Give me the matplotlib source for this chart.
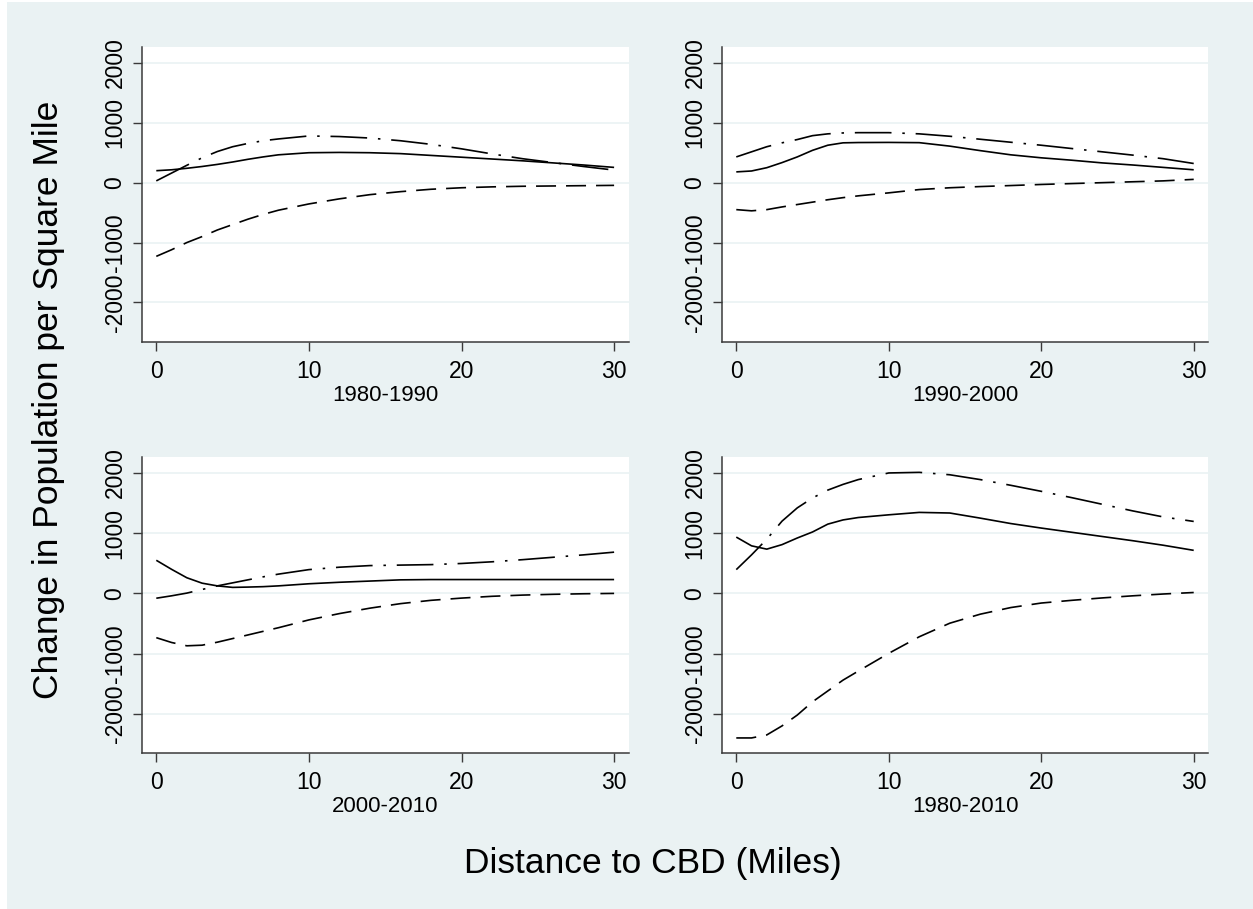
import numpy as np
import matplotlib
matplotlib.use("Agg")
import matplotlib.pyplot as plt
from matplotlib.patches import Rectangle

plt.rcParams["font.family"] = ["Liberation Sans", "DejaVu Sans"]
plt.rcParams["axes.unicode_minus"] = False

# distance grid (miles) the curves were read at
dist = [0, 1, 2, 3, 4, 5, 6, 7, 8, 10, 12, 14, 16, 18, 20, 22, 24, 26, 28, 30]

# 1980-1990
est_8090 = [200, 215, 240, 270, 305, 345, 390, 430, 465, 500, 505, 500, 485, 455, 425, 395, 365, 330, 295, 255]
lo_8090 = [-1230, -1120, -1000, -900, -790, -700, -610, -530, -460, -355, -270, -200, -150, -110, -85, -70, -60, -55, -50, -45]
hi_8090 = [30, 160, 290, 415, 520, 600, 655, 700, 730, 780, 770, 745, 700, 640, 565, 480, 400, 335, 270, 210]

# 1990-2000
est_9000 = [180, 195, 250, 335, 430, 540, 625, 665, 670, 672, 668, 610, 535, 465, 415, 375, 330, 295, 255, 215]
lo_9000 = [-450, -470, -450, -405, -365, -325, -285, -250, -220, -170, -115, -85, -65, -48, -30, -15, 0, 15, 30, 55]
hi_9000 = [430, 515, 600, 665, 720, 785, 815, 830, 835, 835, 815, 775, 725, 675, 625, 570, 515, 460, 400, 320]

# 2000-2010
est_0010 = [550, 400, 260, 170, 125, 100, 105, 112, 125, 160, 185, 205, 225, 230, 230, 230, 230, 230, 230, 230]
lo_0010 = [-735, -815, -870, -860, -810, -750, -690, -630, -570, -440, -335, -245, -170, -115, -78, -48, -28, -15, -6, 0]
hi_0010 = [-80, -40, 5, 65, 125, 175, 225, 275, 320, 395, 435, 462, 470, 478, 497, 525, 560, 600, 640, 685]

# 1980-2010
est_8010 = [935, 790, 735, 810, 920, 1020, 1150, 1220, 1260, 1305, 1345, 1335, 1250, 1160, 1085, 1015, 945, 875, 800, 715]
lo_8010 = [-2400, -2400, -2350, -2200, -2020, -1800, -1620, -1440, -1290, -995, -720, -495, -345, -235, -160, -115, -75, -40, -10, 15]
hi_8010 = [395, 640, 900, 1200, 1420, 1585, 1715, 1810, 1890, 2000, 2010, 1970, 1890, 1795, 1695, 1590, 1480, 1370, 1270, 1195]

periods = ["1980-1990", "1990-2000", "2000-2010", "1980-2010"]
series = [(est_8090, lo_8090, hi_8090), (est_9000, lo_9000, hi_9000),
          (est_0010, lo_0010, hi_0010), (est_8010, lo_8010, hi_8010)]

W, H = 1253, 909
bg = "#EAF2F3"
axcol = "#3a3a3a"

fig = plt.figure(figsize=(W / 100, H / 100), dpi=100, facecolor="white")
fig.patches.append(Rectangle((7 / W, 0), 1 - 7 / W, 1 - 2 / H, transform=fig.transFigure,
                             facecolor=bg, edgecolor="none", zorder=-10))

# panel boxes in pixels: left, right, top, bottom
boxes = [(141.8, 628.6, 47.3, 341.7), (721.8, 1208.2, 47.3, 341.7),
         (141.8, 628.6, 457.3, 753.3), (721.8, 1208.2, 457.3, 753.3)]

for (l, r, t, b), name, (est, lo, hi) in zip(boxes, periods, series):
    ax = fig.add_axes([l / W, 1 - b / H, (r - l) / W, (b - t) / H])
    ax.set_facecolor("white")
    ax.set_xlim(-0.95, 30.95)
    ax.set_ylim(-2655, 2260)
    ax.set_yticks([-2000, -1000, 0, 1000, 2000])
    ax.set_xticks([0, 10, 20, 30])
    for y in [-2000, -1000, 0, 1000, 2000]:
        ax.axhline(y, color=bg, lw=1.2, zorder=0)

    ax.plot(dist, est, color="black", lw=1.2, solid_capstyle="butt")
    ax.plot(dist, lo, color="black", lw=1.2, dashes=(12, 6))
    ax.plot(dist, hi, color="black", lw=1.2, dashes=(22, 6.5, 1.5, 6.5))

    for s in ["top", "right"]:
        ax.spines[s].set_visible(False)
    for s in ["left", "bottom"]:
        ax.spines[s].set_color(axcol)
        ax.spines[s].set_linewidth(1.1)
    ax.tick_params(direction="out", length=6.5, width=1.0, color=axcol,
                   labelsize=16.5, labelcolor="black")
    ax.tick_params(axis="y", labelrotation=90, pad=4.5)
    ax.tick_params(axis="x", pad=6.5)
    for lab in ax.get_yticklabels():
        lab.set_va("center")
    ax.set_xlabel(name, fontsize=16, labelpad=1.3)

fig.text(653 / W, 1 - 864 / H, "Distance to CBD (Miles)", ha="center", va="center", fontsize=25.5)
fig.text(49 / W, 1 - 400 / H, "Change in Population per Square Mile", ha="center", va="center",
         rotation=90, fontsize=25.5)

fig.savefig("out.png", dpi=100, facecolor="white")
